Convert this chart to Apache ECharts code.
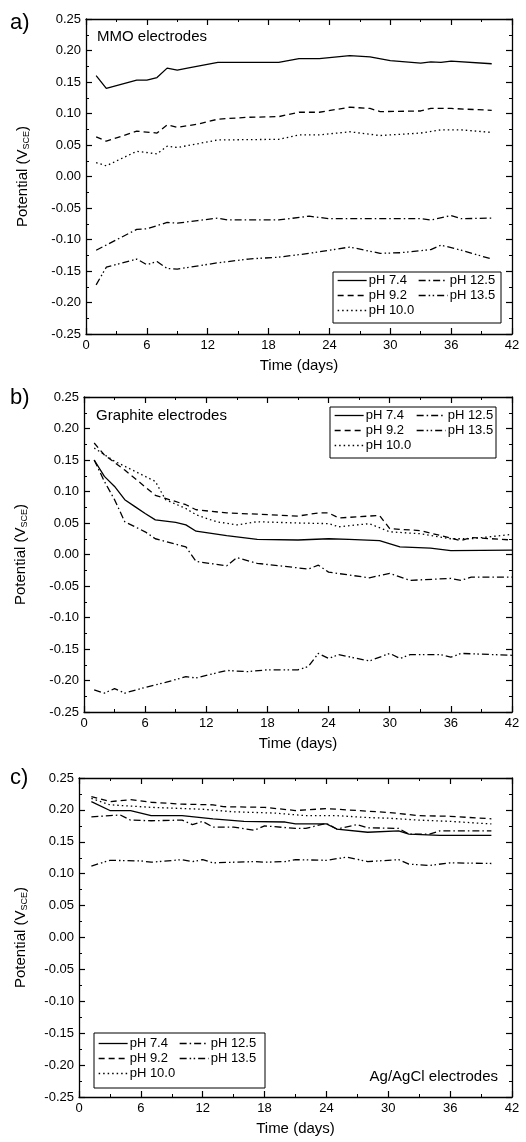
<!DOCTYPE html>
<html>
<head>
<meta charset="utf-8">
<script src="https://cdn.jsdelivr.net/npm/echarts@6/dist/echarts.min.js"></script>
<style>
html, body { margin: 0; padding: 0; background: #fff; }
#main { width: 526px; height: 1142px; }
</style>
</head>
<body>
<div id="main"></div>
<script>
// legend names, same order in every panel
var phNames = ['pH 7.4', 'pH 9.2', 'pH 10.0', 'pH 12.5', 'pH 13.5'];

// a) MMO electrodes  [day, potential V]
var mmo74 = [[1,0.160],[2,0.140],[5,0.153],[6,0.153],[7,0.157],[8,0.172],[9,0.169],[10,0.172],[13,0.181],[19,0.181],[21,0.187],[23,0.187],[26,0.192],[28,0.190],[30,0.184],[33,0.180],[34,0.182],[35,0.181],[36,0.183],[40,0.179]];
var mmo92 = [[1,0.063],[2,0.056],[5,0.072],[7,0.069],[8,0.082],[9,0.078],[11,0.083],[13,0.091],[16,0.094],[19,0.095],[21,0.102],[23,0.102],[26,0.110],[28,0.108],[29,0.103],[33,0.104],[34,0.108],[36,0.108],[40,0.105]];
var mmo100 = [[1,0.022],[2,0.017],[5,0.040],[7,0.036],[8,0.048],[9,0.046],[13,0.058],[19,0.059],[21,0.066],[23,0.066],[26,0.071],[29,0.065],[33,0.069],[35,0.074],[37,0.074],[40,0.070]];
var mmo125 = [[1,-0.117],[5,-0.084],[6,-0.083],[8,-0.073],[9,-0.074],[11,-0.070],[13,-0.066],[14,-0.069],[19,-0.069],[22,-0.063],[24,-0.067],[33,-0.067],[34,-0.069],[36,-0.062],[37,-0.067],[40,-0.066]];
var mmo135 = [[1,-0.172],[2,-0.144],[5,-0.131],[6,-0.140],[7,-0.135],[8,-0.146],[9,-0.147],[13,-0.137],[16,-0.131],[19,-0.128],[22,-0.122],[26,-0.112],[29,-0.122],[31,-0.121],[34,-0.116],[35,-0.109],[37,-0.117],[40,-0.131]];

// b) Graphite electrodes
var gra74 = [[1,0.150],[2,0.124],[3,0.108],[4,0.087],[5,0.076],[6,0.065],[7,0.055],[9,0.051],[10,0.047],[11,0.037],[14,0.030],[15,0.028],[17,0.024],[21,0.023],[24,0.025],[26,0.024],[29,0.022],[31,0.012],[34,0.010],[36,0.006],[42,0.007]];
var gra92 = [[1,0.177],[2,0.158],[4,0.134],[7,0.094],[8,0.089],[10,0.079],[11,0.071],[14,0.066],[17,0.064],[21,0.061],[23,0.066],[24,0.066],[25,0.058],[29,0.062],[30,0.041],[33,0.038],[37,0.022],[38,0.027],[42,0.023]];
var gra100 = [[1,0.169],[3,0.148],[6,0.124],[7,0.116],[8,0.087],[10,0.073],[11,0.063],[13,0.052],[15,0.047],[17,0.052],[21,0.050],[24,0.049],[25,0.044],[28,0.049],[30,0.036],[33,0.033],[36,0.025],[38,0.025],[42,0.032]];
var gra125 = [[1,0.150],[2,0.116],[3,0.087],[4,0.052],[6,0.036],[7,0.025],[10,0.012],[11,-0.011],[14,-0.018],[15,-0.005],[17,-0.014],[22,-0.023],[23,-0.017],[24,-0.028],[28,-0.037],[30,-0.030],[32,-0.041],[36,-0.038],[37,-0.041],[38,-0.036],[42,-0.036]];
var gra135 = [[1,-0.215],[2,-0.220],[3,-0.213],[4,-0.220],[6,-0.211],[8,-0.203],[10,-0.194],[11,-0.196],[14,-0.184],[16,-0.186],[18,-0.183],[21,-0.183],[22,-0.178],[23,-0.157],[24,-0.165],[25,-0.159],[28,-0.169],[30,-0.157],[31,-0.165],[32,-0.159],[35,-0.159],[36,-0.163],[37,-0.157],[42,-0.160]];

// c) Ag/AgCl electrodes
var agc74 = [[1.2,0.213],[3,0.199],[5,0.199],[7,0.191],[10,0.191],[13,0.186],[16,0.182],[20,0.181],[21,0.178],[24,0.178],[25,0.170],[28,0.165],[31,0.167],[32,0.162],[35,0.160],[40,0.160]];
var agc92 = [[1.2,0.221],[3,0.213],[5,0.216],[7,0.212],[10,0.209],[13,0.208],[14,0.205],[18,0.204],[21,0.199],[24,0.202],[27,0.199],[30,0.196],[33,0.191],[36,0.190],[40,0.186]];
var agc100 = [[1.2,0.218],[3,0.208],[7,0.204],[12,0.201],[15,0.197],[19,0.195],[22,0.191],[25,0.191],[28,0.188],[30,0.187],[33,0.184],[36,0.182],[40,0.178]];
var agc125 = [[1.2,0.189],[3,0.191],[4,0.192],[5,0.184],[7,0.183],[10,0.184],[11,0.177],[12,0.182],[13,0.173],[15,0.173],[17,0.168],[18,0.175],[21,0.171],[22,0.171],[24,0.179],[25,0.170],[27,0.177],[28,0.172],[31,0.171],[32,0.162],[34,0.162],[35,0.167],[40,0.167]];
var agc135 = [[1.2,0.112],[3,0.121],[6,0.120],[7,0.118],[10,0.122],[11,0.119],[12,0.122],[13,0.117],[17,0.119],[18,0.118],[20,0.119],[21,0.122],[24,0.121],[26,0.126],[28,0.119],[31,0.122],[32,0.115],[34,0.113],[36,0.117],[40,0.116]];

var panels = [
    {letter: 'a)', label: 'MMO electrodes', data: [mmo74, mmo92, mmo100, mmo125, mmo135]},
    {letter: 'b)', label: 'Graphite electrodes', data: [gra74, gra92, gra100, gra125, gra135]},
    {letter: 'c)', label: 'Ag/AgCl electrodes', data: [agc74, agc92, agc100, agc125, agc135]}
];

var FONT = 'Liberation Sans, Arial, sans-serif';
var dashes = ['solid', [6, 4], [1.5, 3], [7, 3, 1.5, 3], [7, 3, 1.5, 2.5, 1.5, 3]];

var grids = [
    {left: 86, top: 19, width: 426, height: 315},
    {left: 84, top: 397, width: 428, height: 315},
    {left: 79, top: 778, width: 433, height: 319}
];

var option = {
    backgroundColor: '#fff',
    animation: false,
    grid: grids,
    xAxis: [],
    yAxis: [],
    series: [],
    legend: [],
    graphic: []
};

function tickStyle() {
    return {
        axisLine: {show: true, onZero: false, lineStyle: {color: '#000', width: 1.3}},
        axisTick: {show: true, inside: true, length: 6, lineStyle: {color: '#000', width: 1.2}},
        minorTick: {show: true, splitNumber: 2, length: 3, lineStyle: {color: '#000', width: 1}},
        splitLine: {show: false}
    };
}

for (var i = 0; i < 3; i++) {
    // bottom x axis with labels
    option.xAxis.push(echarts.util.extend({
        type: 'value', gridIndex: i, position: 'bottom', min: 0, max: 42, interval: 6,
        name: 'Time (days)', nameLocation: 'middle', nameGap: 24,
        nameTextStyle: {fontFamily: FONT, fontSize: 15, color: '#000'},
        axisLabel: {fontFamily: FONT, fontSize: 13, color: '#000', margin: 5}
    }, tickStyle()));
    // top mirror
    option.xAxis.push(echarts.util.extend({
        type: 'value', gridIndex: i, position: 'top', min: 0, max: 42, interval: 6,
        axisLabel: {show: false}
    }, tickStyle()));
    option.yAxis.push(echarts.util.extend({
        type: 'value', gridIndex: i, position: 'left', min: -0.25, max: 0.25, interval: 0.05,
        name: '{n|Potential (V}{s|SCE}{n|)}', nameLocation: 'middle', nameRotate: 90,
        nameGap: (i == 2 ? 50 : 55),
        nameTextStyle: {
            fontFamily: FONT, color: '#000',
            rich: {
                n: {fontFamily: FONT, fontSize: 15, color: '#000'},
                s: {fontFamily: FONT, fontSize: 9, color: '#000', padding: [8, 0, 0, 0]}
            }
        },
        axisLabel: {fontFamily: FONT, fontSize: 13, color: '#000', margin: 5,
            formatter: function (v) { return v.toFixed(2); }}
    }, tickStyle()));
    // right mirror
    option.yAxis.push(echarts.util.extend({
        type: 'value', gridIndex: i, position: 'right', min: -0.25, max: 0.25, interval: 0.05,
        axisLabel: {show: false}
    }, tickStyle()));

    for (var k = 0; k < 5; k++) {
        option.series.push({
            name: phNames[k],
            type: 'line',
            xAxisIndex: i * 2,
            yAxisIndex: i * 2,
            data: panels[i].data[k],
            symbol: 'none',
            clip: true,
            itemStyle: {color: '#000'},
            lineStyle: {color: '#000', width: 1.3, type: dashes[k]}
        });
    }
}

// legend boxes: [box x, y, w, h, left column x, right column x, first row top]
var legendPos = [
    [333, 272, 168, 51, 337, 418, 274],
    [330, 407, 166, 51, 334, 416, 409],
    [94, 1033, 171, 55, 98, 179, 1037]
];

for (var i = 0; i < 3; i++) {
    var p = legendPos[i];
    option.graphic.push({
        type: 'rect', shape: {x: p[0], y: p[1], width: p[2], height: p[3]},
        style: {fill: 'none', stroke: '#000', lineWidth: 1}, z: 50
    });
    var common = {
        orient: 'vertical', top: p[6], itemWidth: 29, itemHeight: 14, itemGap: 2,
        selectedMode: false, padding: 0,
        itemStyle: {color: 'rgba(0,0,0,0)', borderWidth: 0, opacity: 0},
        lineStyle: {width: 1.3},
        textStyle: {fontFamily: FONT, fontSize: 13, color: '#000', padding: [0, 0, 0, -3]}
    };
    option.legend.push(echarts.util.extend({left: p[4], data: ['pH 7.4', 'pH 9.2', 'pH 10.0']}, common));
    option.legend.push(echarts.util.extend({left: p[5], data: ['pH 12.5', 'pH 13.5']}, echarts.util.clone(common)));
}

// panel letters and electrode labels
var letterY = [12, 387, 767];
for (var i = 0; i < 3; i++) {
    option.graphic.push({
        type: 'text', left: 10, top: letterY[i],
        style: {text: panels[i].letter, font: '22px ' + FONT, fill: '#000'}
    });
}
option.graphic.push({type: 'text', left: 97, top: 29, style: {text: panels[0].label, font: '15px ' + FONT, fill: '#000'}});
option.graphic.push({type: 'text', left: 96, top: 408, style: {text: panels[1].label, font: '15px ' + FONT, fill: '#000'}});
option.graphic.push({type: 'text', right: 28, top: 1069, style: {text: panels[2].label, font: '15px ' + FONT, fill: '#000'}});

var myChart = echarts.init(document.getElementById('main'));
myChart.setOption(option);
</script>
</body>
</html>
